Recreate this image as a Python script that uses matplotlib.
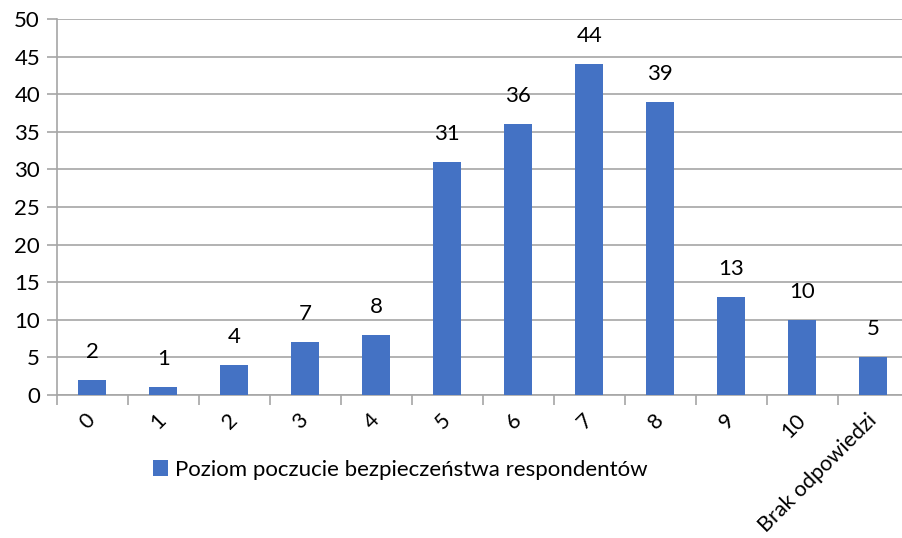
import matplotlib.pyplot as plt
import numpy as np

categories = ['0', '1', '2', '3', '4', '5', '6', '7', '8', '9', '10', 'Brak odpowiedzi']
values = [2, 1, 4, 7, 8, 31, 36, 44, 39, 13, 10, 5]
series_name = 'Poziom poczucie bezpieczeństwa respondentów'
y_ticks = [0, 5, 10, 15, 20, 25, 30, 35, 40, 45, 50]

plt.rcParams['font.family'] = ['Lato', 'DejaVu Sans']

fig = plt.figure(figsize=(9.02, 5.38), dpi=100)
# axes runs a little past the right edge of the picture, as in the original
ax = fig.add_axes([56.7 / 902, 143 / 538, 852 / 902, 376 / 538])

x = np.arange(len(categories))
bars = ax.bar(x, values, width=0.4, color='#4472C4', zorder=3, label=series_name)

for xi, v in zip(x, values):
    ax.annotate(str(v), (xi, v), xytext=(0, 13), textcoords='offset points',
                ha='center', va='bottom', fontsize=16, color='black')

ax.set_xlim(-0.5, len(categories) - 0.5)
ax.set_ylim(0, 50)
ax.set_yticks(y_ticks)
ax.yaxis.grid(True, color='#A6A6A6', linewidth=1.2, zorder=0)
ax.tick_params(axis='y', length=7, width=1.2, color='#A6A6A6', labelsize=16, pad=5)

ax.set_xticks(x)
ax.set_xticklabels(categories, rotation=45, ha='right', va='center', rotation_mode='anchor', fontsize=15.5)
ax.set_xticks(np.arange(len(categories) + 1) - 0.5, minor=True)
ax.tick_params(axis='x', which='major', length=0, pad=16)
ax.tick_params(axis='x', which='minor', length=7, width=1.2, color='#A6A6A6')

for side in ['top', 'right']:
    ax.spines[side].set_visible(False)
for side in ['left', 'bottom']:
    ax.spines[side].set_color('#A6A6A6')
    ax.spines[side].set_linewidth(1.2)

fig.legend(handles=[bars], labels=[series_name], loc='center', bbox_to_anchor=(400 / 902, 68 / 538),
           frameon=False, fontsize=16, handlelength=0.7, handleheight=0.7, handletextpad=0.3)

fig.savefig('out.png', dpi=100)
